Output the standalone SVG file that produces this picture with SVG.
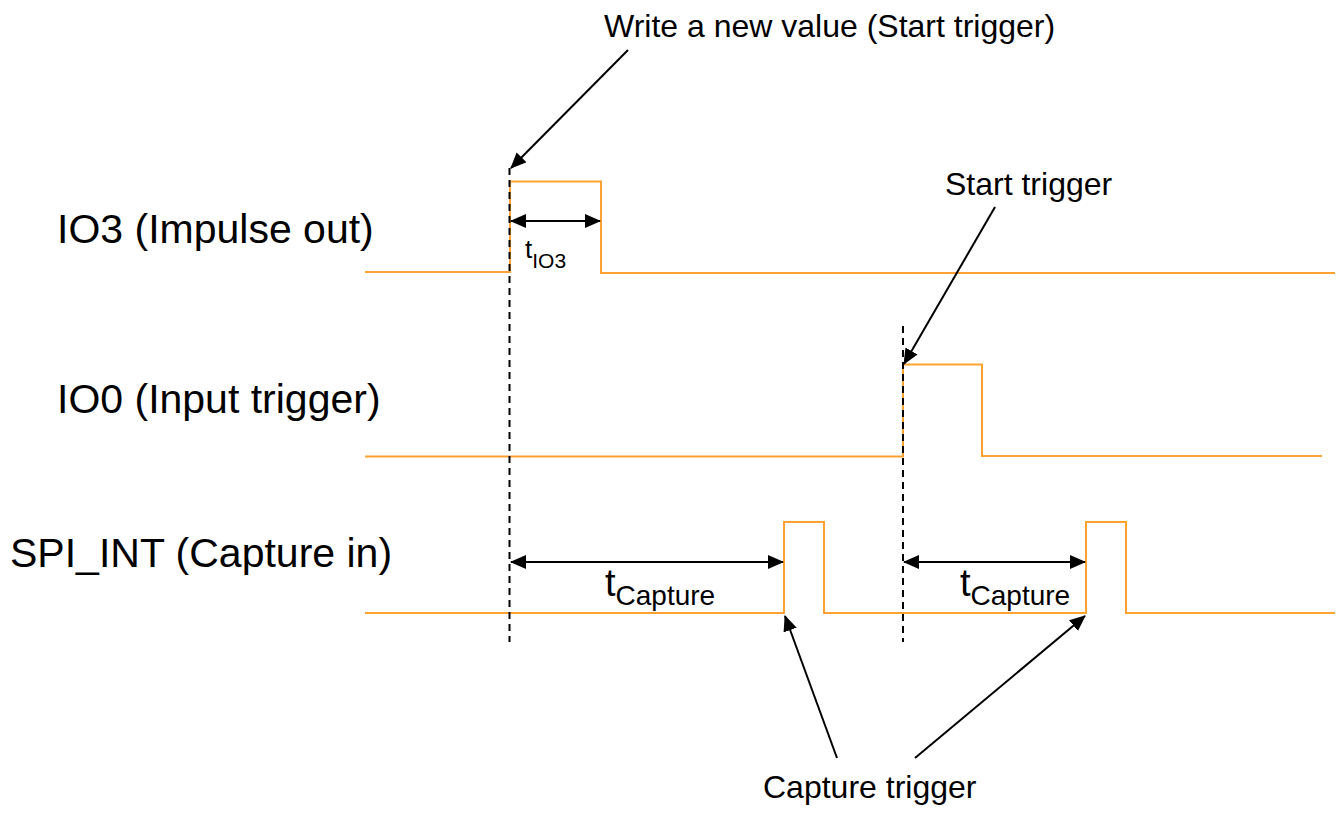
<svg xmlns="http://www.w3.org/2000/svg" width="1343" height="817" viewBox="0 0 1343 817">
<style>
text{font-family:"Liberation Sans",Arial,sans-serif;fill:#000}
.lbl{font-size:41px}
.note{font-size:32px}
.sig{fill:none;stroke:#FFA232;stroke-width:2}
.dash{fill:none;stroke:#000;stroke-width:2;stroke-dasharray:7,5}
.arr{fill:none;stroke:#000;stroke-width:2}
</style>
<defs>
<marker id="ah" viewBox="0 0 16 14" markerWidth="16" markerHeight="14" refX="15" refY="7" orient="auto-start-reverse" markerUnits="userSpaceOnUse">
<path d="M0,0 L16,7 L0,14 z" fill="#000"/>
</marker>
</defs>
<rect width="1343" height="817" fill="#fff"/>
<g id="labels">
<text class="lbl" x="57" y="243">IO3 (Impulse out)</text>
<text class="lbl" x="57" y="413">IO0 (Input trigger)</text>
<text class="lbl" x="10" y="567">SPI_INT (Capture in)</text>
</g>
<g id="signals">
<path id="io3" class="sig" d="M365,272 H510 V181.5 H601 V273 H1335"/>
<path id="io0" class="sig" d="M365,456.5 H903 V364.5 H982 V456 H1322"/>
<path id="spi" class="sig" d="M365,613 H784 V522 H824 V613 H1086 V522 H1126 V613 H1335"/>
</g>
<g id="connectors">
<line class="dash" x1="509.5" y1="168" x2="509.5" y2="642"/>
<line class="dash" x1="903" y1="326" x2="903" y2="642"/>
<line class="arr" x1="511" y1="221" x2="600" y2="221" marker-start="url(#ah)" marker-end="url(#ah)"/>
<line class="arr" x1="511" y1="562" x2="783" y2="562" marker-start="url(#ah)" marker-end="url(#ah)"/>
<line class="arr" x1="904" y1="562" x2="1085" y2="562" marker-start="url(#ah)" marker-end="url(#ah)"/>
<line class="arr" x1="628" y1="50" x2="511" y2="168" marker-end="url(#ah)"/>
<line class="arr" x1="995" y1="207" x2="904" y2="364" marker-end="url(#ah)"/>
<line class="arr" x1="837" y1="758" x2="785" y2="616" marker-end="url(#ah)"/>
<line class="arr" x1="915" y1="758" x2="1085" y2="616" marker-end="url(#ah)"/>
</g>
<g id="annotations">
<text class="note" x="604" y="37">Write a new value (Start trigger)</text>
<text class="note" x="945" y="195">Start trigger</text>
<text class="note" x="763" y="798">Capture trigger</text>
<text x="525" y="258" font-size="26">t<tspan font-size="21" dy="10">IO3</tspan></text>
<text x="605" y="596" font-size="38">t<tspan font-size="28" dy="9">Capture</tspan></text>
<text x="960" y="596" font-size="38">t<tspan font-size="28" dy="9">Capture</tspan></text>
</g>
</svg>
